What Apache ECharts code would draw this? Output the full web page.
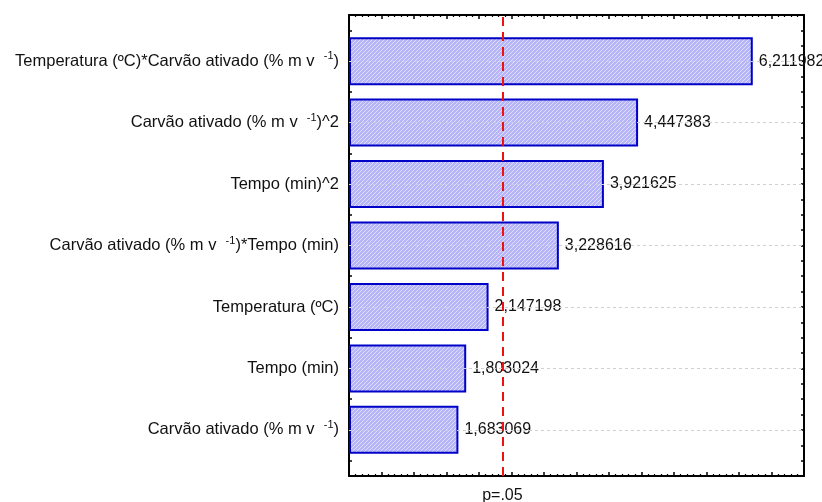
<!DOCTYPE html>
<html>
<head>
<meta charset="utf-8">
<script src="https://cdn.jsdelivr.net/npm/echarts@6/dist/echarts.min.js"></script>
<style>
  html, body { margin: 0; padding: 0; background: #fff; }
  #chart { width: 822px; height: 502px; }
</style>
</head>
<body>
<div id="chart"></div>
<script>
// Pareto chart of standardized effects (absolute value)
const categories = [
  'Temperatura (ºC)*Carvão ativado (% m v -1)',
  'Carvão ativado (% m v -1)^2',
  'Tempo (min)^2',
  'Carvão ativado (% m v -1)*Tempo (min)',
  'Temperatura (ºC)',
  'Tempo (min)',
  'Carvão ativado (% m v -1)'
];
const effects = [6.211982, 4.447383, 3.921625, 3.228616, 2.147198, 1.803024, 1.683069];
const effectLabels = ['6,211982', '4,447383', '3,921625', '3,228616', '2,147198', '1,803024', '1,683069'];
const pLimit = 2.3646;
const pLabel = 'p=.05';

const FONT = 'Arial, "Liberation Sans", sans-serif';

// light blue fill with fine diagonal hatching
function hatchPattern() {
  const c = document.createElement('canvas');
  c.width = 4; c.height = 4;
  const g = c.getContext('2d');
  g.fillStyle = '#b5b5f7';
  g.fillRect(0, 0, 4, 4);
  g.fillStyle = '#dedeff';
  for (let i = 0; i < 4; i++) g.fillRect(i, 3 - i, 1, 1);
  return c;
}

// turn "-1" exponent into a superscript
function formatCategory(name) {
  return name.replace(' -1', '  {sup|-1}');
}

const chart = echarts.init(document.getElementById('chart'));

const frameAxisX = (pos) => ({
  type: 'value', gridIndex: 0, position: pos, min: 0, max: 7, interval: 0.5,
  axisLine: { show: true, onZero: false, lineStyle: { color: '#000', width: 2 } },
  axisTick: { show: true, inside: true, length: 4, lineStyle: { color: '#000', width: 1.5 } },
  minorTick: { show: true, splitNumber: 5, length: 2, lineStyle: { color: '#000', width: 1.2 } },
  axisLabel: { show: false },
  splitLine: { show: false }
});
const frameAxisY = (pos) => ({
  type: 'value', gridIndex: 0, position: pos, min: 0.25, max: 7.75, interval: 0.25,
  axisLine: { show: true, onZero: false, lineStyle: { color: '#000', width: 2 } },
  axisTick: { show: true, inside: true, length: 3, lineStyle: { color: '#000', width: 1.5 } },
  axisLabel: { show: false },
  splitLine: { show: false }
});

chart.setOption({
  animation: false,
  grid: [
    { left: 349, right: 18, top: 15, bottom: 26, outerBoundsMode: 'none' },
    { left: 349, right: 18, top: 30.4, bottom: 41.4, outerBoundsMode: 'none' }
  ],
  xAxis: [
    frameAxisX('bottom'),
    frameAxisX('top'),
    {
      type: 'value', gridIndex: 1, min: 0, max: 7,
      axisLine: { show: false }, axisTick: { show: false },
      axisLabel: { show: false }, splitLine: { show: false }
    }
  ],
  yAxis: [
    frameAxisY('left'),
    frameAxisY('right'),
    {
      type: 'category', gridIndex: 1, data: categories, inverse: true,
      axisLine: { show: false },
      axisTick: { show: true, inside: true, alignWithLabel: true, length: 5, lineStyle: { color: '#000', width: 2 } },
      axisLabel: {
        margin: 10, color: '#111', fontFamily: FONT, fontSize: 16.5,
        formatter: formatCategory,
        rich: { sup: { fontSize: 11, verticalAlign: 'bottom', padding: [0, 0, 10, 0], fontFamily: FONT, color: '#111' } }
      },
      splitLine: { show: false }
    }
  ],
  series: [
    {
      // dotted reference lines at each effect row
      type: 'line', xAxisIndex: 2, yAxisIndex: 2, data: [], z: 1, silent: true,
      markLine: {
        silent: true, symbol: 'none', label: { show: false },
        lineStyle: { color: '#d0d0d0', type: [3, 3], width: 1 },
        data: categories.map(c => ({ yAxis: c }))
      }
    },
    {
      type: 'bar', xAxisIndex: 2, yAxisIndex: 2, z: 2, barWidth: 48,
      data: effects,
      itemStyle: { color: { image: hatchPattern(), repeat: 'repeat' }, borderColor: '#0000c8', borderWidth: 2 },
      label: {
        show: true, position: 'right', distance: 6, color: '#111', fontFamily: FONT, fontSize: 16,
        formatter: p => effectLabels[p.dataIndex]
      }
    },
    {
      // significance limit
      type: 'line', xAxisIndex: 0, yAxisIndex: 0, data: [], z: 5, silent: true,
      markLine: {
        silent: true, symbol: 'none',
        lineStyle: { color: '#ee1111', type: [9, 6], width: 2 },
        label: { show: true, position: 'start', distance: 12, formatter: pLabel, color: '#111', fontFamily: FONT, fontSize: 16 },
        data: [{ xAxis: pLimit }]
      }
    }
  ]
});
</script>
</body>
</html>
